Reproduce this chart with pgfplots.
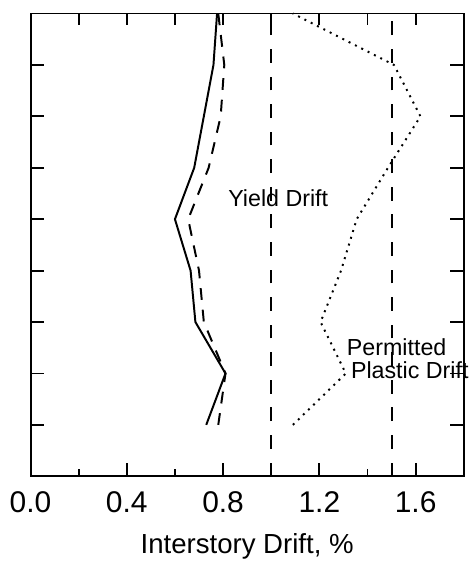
\documentclass[border=0pt]{standalone}
\usepackage{pgfplots}
\pgfplotsset{compat=1.18}
\usepackage{fontspec}
\setmainfont{Liberation Sans}
\begin{document}
\begin{tikzpicture}
\begin{axis}[
  scale only axis,
  width=220pt, height=235pt,
  at={(0,0)}, anchor=south west,
  xmin=0, xmax=1.8, ymin=0, ymax=9,
  axis line style={line width=1pt},
  tick style={line width=0.9pt, black},
  tick align=inside,
  xtick={0,0.4,0.8,1.2,1.6},
  minor xtick={0.2,0.6,1.0,1.4},
  xticklabels={0.0,0.4,0.8,1.2,1.6},
  xtick pos=bottom,
  major tick length=7pt,
  minor tick length=3.5pt,
  ytick={1,2,3,4,5,6,7,8},
  yticklabels={},
  ytick pos=both,
  /pgf/number format/assume math mode=true,
  xticklabel style={font=\fontsize{15.2}{17}\selectfont, yshift=-4pt},
  xlabel={Interstory Drift, \%},
  xlabel style={font=\fontsize{14}{16}\selectfont, yshift=-4pt},
  clip=false,
]
% solid
\addplot[black, line width=1pt] coordinates {
 (0.73,1) (0.81,2) (0.685,3) (0.665,4) (0.60,5) (0.68,6) (0.72,7) (0.76,8) (0.775,9)};
% dashed
\addplot[black, line width=1pt, dash pattern=on 6pt off 5pt] coordinates {
 (0.78,1) (0.81,2) (0.72,3) (0.70,4) (0.655,5) (0.74,6) (0.79,7) (0.805,8) (0.78,9)};
% dotted
\addplot[black, line width=1pt, dash pattern=on 1pt off 2.6pt] coordinates {
 (1.09,1) (1.31,2) (1.205,3) (1.29,4) (1.355,5) (1.485,6) (1.62,7) (1.51,8) (1.09,9)};
% vertical limits
\addplot[black, line width=1pt, dash pattern=on 7pt off 7pt] coordinates {(1.0,0) (1.0,9)};
\addplot[black, line width=1pt, dash pattern=on 7pt off 7pt] coordinates {(1.5,0) (1.5,9)};
\node[anchor=base west, inner sep=0pt, font=\fontsize{11.8}{13}\selectfont] at (axis cs:0.82,5.25) {Yield Drift};
\node[anchor=base west, inner sep=0pt, font=\fontsize{11.8}{13}\selectfont] at (axis cs:1.313,2.35) {Permitted};
\node[anchor=base west, inner sep=0pt, font=\fontsize{11.8}{13}\selectfont] at (axis cs:1.33,1.91) {Plastic Drift};
\end{axis}
\begin{axis}[
  scale only axis,
  width=220pt, height=235pt,
  at={(0,0)}, anchor=south west,
  xmin=0, xmax=1.8, ymin=0, ymax=9,
  axis x line*=top, hide y axis,
  axis line style={line width=1pt},
  tick style={line width=0.9pt, black},
  tick align=inside,
  major tick length=6pt,
  xtick={0.2,0.4,0.6,0.8,1.0,1.2,1.4,1.6},
  xticklabels={},
]
\end{axis}
\path[use as bounding box] (-15.5pt,-44.5pt) rectangle (224.5pt,238.5pt);
\end{tikzpicture}
\end{document}
